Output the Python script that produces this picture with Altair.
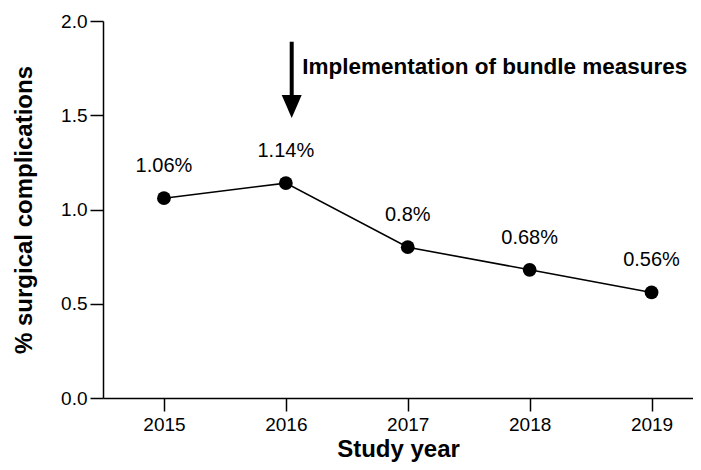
import altair as alt
import pandas as pd

years = [2015, 2016, 2017, 2018, 2019]
values = [1.06, 1.14, 0.80, 0.68, 0.56]
labels = ["1.06%", "1.14%", "0.8%", "0.68%", "0.56%"]

annot_text = ["Implementation of bundle measures"]

df = pd.DataFrame({"year": years, "value": values, "label": labels})

FONT = "Liberation Sans"

xscale = alt.Scale(domain=[2014.5, 2019.34], nice=False, zero=False)
yscale = alt.Scale(domain=[0, 2.0], nice=False, zero=True)

xax = alt.Axis(values=years, format="d", title="Study year", grid=False,
               domainColor="black", domainWidth=1.5, tickColor="black", tickWidth=1.5,
               tickSize=13, labelFontSize=19, labelColor="black", labelPadding=4,
               labelFont=FONT, titleFont=FONT, titleFontSize=24, titleFontWeight="bold",
               titleColor="black", titlePadding=3)
yax = alt.Axis(values=[0, 0.5, 1.0, 1.5, 2.0], format=".1f", title="% surgical complications",
               grid=False, domainColor="black", domainWidth=1.5, tickColor="black",
               tickWidth=1.5, tickSize=13, labelFontSize=19, labelColor="black",
               labelPadding=3, labelFont=FONT, titleFont=FONT, titleFontSize=24,
               titleFontWeight="bold", titleColor="black", titlePadding=24)

base = alt.Chart(df)

line = base.mark_line(color="black", strokeWidth=1.6).encode(
    x=alt.X("year:Q", scale=xscale, axis=xax),
    y=alt.Y("value:Q", scale=yscale, axis=yax),
)
pts = base.mark_point(filled=True, color="black", size=190, opacity=1).encode(
    x=alt.X("year:Q", scale=xscale),
    y=alt.Y("value:Q", scale=yscale),
)
txt = base.mark_text(font=FONT, fontSize=20, color="black", dy=-26,
                     baseline="alphabetic", align="center").encode(
    x=alt.X("year:Q", scale=xscale),
    y=alt.Y("value:Q", scale=yscale),
    text="label:N",
)

arrow_df = pd.DataFrame({"x": [2016.048], "y1": [1.89], "y2": [1.58], "yh": [1.547]})
shaft = alt.Chart(arrow_df).mark_rule(color="black", strokeWidth=4).encode(
    x=alt.X("x:Q", scale=xscale),
    y=alt.Y("y1:Q", scale=yscale),
    y2="y2:Q",
)
head = alt.Chart(arrow_df).mark_point(
    shape="M-0.87,-1L0.87,-1L0,1Z", filled=True, color="black", size=529, opacity=1
).encode(
    x=alt.X("x:Q", scale=xscale),
    y=alt.Y("yh:Q", scale=yscale),
)
ann_df = pd.DataFrame({"x": [2016.135], "y": [1.72], "t": annot_text})
ann = alt.Chart(ann_df).mark_text(font=FONT, fontSize=22.5, fontWeight="bold", color="black",
                                  align="left", baseline="alphabetic").encode(
    x=alt.X("x:Q", scale=xscale),
    y=alt.Y("y:Q", scale=yscale),
    text="t:N",
)

chart = alt.layer(line, pts, txt, shaft, head, ann).properties(
    width=590, height=377,
    autosize=alt.AutoSizeParams(type="none"),
    padding={"left": 95, "top": 13, "right": 0, "bottom": 64},
).configure_view(stroke=None)

chart.save("out.html", embed_options={"renderer": "svg", "actions": False})
